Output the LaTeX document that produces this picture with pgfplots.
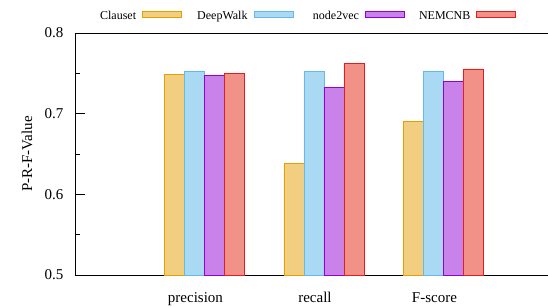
\documentclass[border=0pt]{standalone}
\usepackage{fontspec}
\setmainfont{Liberation Serif}
\usepackage{pgfplots}
\pgfplotsset{compat=1.18}
\definecolor{c1f}{RGB}{242,207,128}
\definecolor{c1e}{RGB}{230,159,0}
\definecolor{c2f}{RGB}{170,217,243}
\definecolor{c2e}{RGB}{100,185,233}
\definecolor{c3f}{RGB}{201,130,233}
\definecolor{c3e}{RGB}{148,0,211}
\definecolor{c4f}{RGB}{242,145,136}
\definecolor{c4e}{RGB}{228,30,30}
\pgfplotsset{mylegend/.style={legend image code/.code={\draw[##1,line width=0.8pt] (0pt,-1.3pt) rectangle (39pt,5pt);}}}
\begin{document}
\begin{tikzpicture}
\begin{axis}[name=ax, scale only axis, width=473pt, height=242pt,
  xmin=-1.0837, xmax=2.875, ymin=0.5, ymax=0.8, enlargelimits=false,
  axis x line=box, axis y line=left,
  every non boxed y axis/.append style={y axis line style={-}},
  y axis line style={-}, axis line style={line width=0.9pt, black},
  ybar=0pt, bar width=20pt,
  xtick={0,1,2}, xticklabels={precision,recall,F-score},
  x tick style={draw=none},
  xticklabel style={anchor=base, yshift=-17pt, xshift=-9pt, font=\fontsize{15}{15}\selectfont},
  ytick={0.5,0.6,0.7,0.8}, yticklabels={0.5,0.6,0.7,0.8},
  minor y tick num=1, ytick pos=left, ytick align=inside,
  major tick length=10pt, minor tick length=5pt,
  y tick style={line width=0.8pt, black},
  yticklabel style={font=\fontsize{15}{15}\selectfont, xshift=-8pt},
  ylabel={P-R-F-Value},
  ylabel style={at={(axis description cs:-0.1015,0.5)}, anchor=center, font=\fontsize{15}{15}\selectfont},
  legend columns=4, legend plot pos=right,
  legend style={draw=none, fill=none, at={(axis description cs:0.002,1.07)}, anchor=west,
    font=\fontsize{12}{12}\selectfont, inner sep=0pt,
    nodes={inner sep=0pt, text width=60pt, align=right},
    /tikz/every odd column/.style={column sep=6pt},
    /tikz/every even column/.style={column sep=5.6pt}},
]
\addplot[fill=c1f, draw=c1e, line width=0.8pt, mylegend] coordinates {(0,0.749) (1,0.638) (2,0.690)};
\addplot[fill=c2f, draw=c2e, line width=0.8pt, mylegend] coordinates {(0,0.753) (1,0.7525) (2,0.753)};
\addplot[fill=c3f, draw=c3e, line width=0.8pt, mylegend] coordinates {(0,0.7475) (1,0.733) (2,0.740)};
\addplot[fill=c4f, draw=c4e, line width=0.8pt, mylegend] coordinates {(0,0.7495) (1,0.762) (2,0.7555)};
\legend{Clauset,DeepWalk,node2vec,NEMCNB}
\end{axis}
\draw[line width=0.9pt, black] (ax.north west) -- (ax.north east);
\pgfresetboundingbox
\path[use as bounding box] (ax.south west) ++(-75pt,-31pt) rectangle ++(548pt,306pt);
\end{tikzpicture}
\end{document}
